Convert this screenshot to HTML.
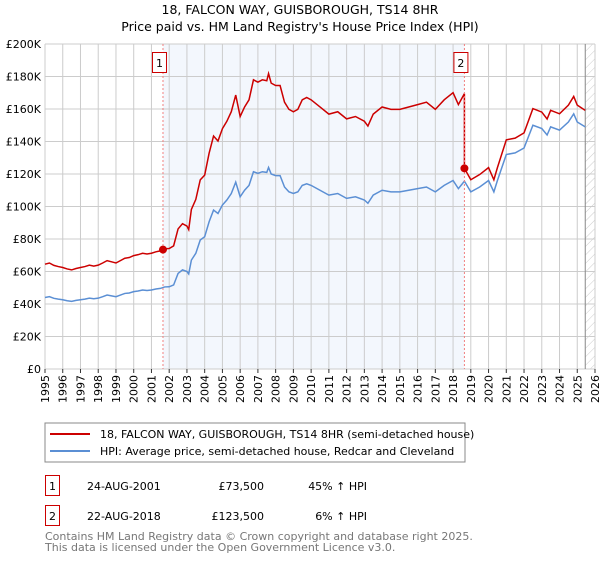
<!DOCTYPE html>
<html><head><meta charset="utf-8"><style>
body{margin:0;background:#fff;font-family:"DejaVu Sans","Liberation Sans",sans-serif;}
svg text{font-family:"DejaVu Sans","Liberation Sans",sans-serif;}
</style></head><body>
<svg id="c" width="600" height="560" xmlns="http://www.w3.org/2000/svg">
<defs><pattern id="hatch" width="6" height="6" patternUnits="userSpaceOnUse" patternTransform="rotate(45)"><line x1="0" y1="0" x2="0" y2="6" stroke="#ccc" stroke-width="1"/></pattern></defs>
<text x="300" y="14" text-anchor="middle" font-size="12.5">18, FALCON WAY, GUISBOROUGH, TS14 8HR</text>
<text x="300" y="31" text-anchor="middle" font-size="12.5">Price paid vs. HM Land Registry's House Price Index (HPI)</text>
<g id="plot"></g>
<rect x="45" y="423" width="420" height="39" fill="#fff" stroke="#888"/>
<line x1="50" y1="434" x2="90" y2="434" stroke="#cc0000" stroke-width="2"/>
<text x="100" y="438" font-size="11">18, FALCON WAY, GUISBOROUGH, TS14 8HR (semi-detached house)</text>
<line x1="50" y1="451" x2="90" y2="451" stroke="#5b8fd4" stroke-width="2"/>
<text x="100" y="455" font-size="11">HPI: Average price, semi-detached house, Redcar and Cleveland</text>
<g font-size="11">
<rect x="45.5" y="475.5" width="14" height="20" fill="#fff" stroke="#cc0000"/>
<text x="52.5" y="490" text-anchor="middle">1</text>
<text x="87" y="490">24-AUG-2001</text>
<text x="264" y="490" text-anchor="end">£73,500</text>
<text x="367" y="490" text-anchor="end">45% ↑ HPI</text>
<rect x="45.5" y="505.5" width="14" height="20" fill="#fff" stroke="#cc0000"/>
<text x="52.5" y="520" text-anchor="middle">2</text>
<text x="87" y="520">22-AUG-2018</text>
<text x="264" y="520" text-anchor="end">£123,500</text>
<text x="367" y="520" text-anchor="end">6% ↑ HPI</text>
</g>
<text x="45" y="540" font-size="11" fill="#777">Contains HM Land Registry data © Crown copyright and database right 2025.</text>
<text x="45" y="551" font-size="11" fill="#777">This data is licensed under the Open Government Licence v3.0.</text>
</svg>
<script>
const yTicks=[0,20000,40000,60000,80000,100000,120000,140000,160000,180000,200000];
const yTickLabels=["£0","£20K","£40K","£60K","£80K","£100K","£120K","£140K","£160K","£180K","£200K"];
const years=[1995,1996,1997,1998,1999,2000,2001,2002,2003,2004,2005,2006,2007,2008,2009,2010,2011,2012,2013,2014,2015,2016,2017,2018,2019,2020,2021,2022,2023,2024,2025,2026];
const hpiDates=[1995,1995.25,1995.5,1995.75,1996,1996.25,1996.5,1996.75,1997,1997.25,1997.5,1997.75,1998,1998.25,1998.5,1998.75,1999,1999.25,1999.5,1999.75,2000,2000.25,2000.5,2000.75,2001,2001.25,2001.5,2001.75,2002,2002.25,2002.5,2002.75,2003,2003.1,2003.25,2003.5,2003.75,2004,2004.25,2004.5,2004.75,2005,2005.25,2005.5,2005.75,2006,2006.25,2006.5,2006.75,2007,2007.25,2007.5,2007.6,2007.75,2008,2008.25,2008.5,2008.75,2009,2009.25,2009.5,2009.75,2010,2010.5,2011,2011.5,2012,2012.5,2013,2013.2,2013.5,2014,2014.5,2015,2015.5,2016,2016.5,2017,2017.5,2018,2018.3,2018.64,2019,2019.5,2020,2020.3,2020.5,2021,2021.5,2022,2022.5,2023,2023.3,2023.5,2024,2024.5,2024.8,2025,2025.45];
const hpiValues=[44000,44500,43500,43000,42600,42000,41600,42200,42600,43000,43600,43200,43600,44500,45500,45000,44500,45500,46500,46800,47600,48000,48600,48300,48600,49200,49600,50500,50600,51700,58800,61000,60000,58500,67000,71200,79400,81400,90600,97800,95700,100900,104000,108000,115000,106000,110000,113000,121400,120400,121400,121000,124000,120000,119000,119000,112000,109000,108000,109000,113000,114000,113000,110000,107000,108000,105000,106000,104000,102000,107000,110000,109000,109000,110000,111000,112000,109000,113000,116000,111000,115600,109000,112000,116000,109000,116000,132000,133000,136000,150000,148000,144000,149000,147000,152000,157000,152000,149000];
const saleDates=[2001.65,2018.64];
const salePrices=[73500,123500];
const X0=45,X1=595,Y0=369,Y1=44;
const xs=t=>X0+(t-1995)/(2026-1995)*(X1-X0);
const ys=v=>Y0-(v/200000)*(Y0-Y1);
const NS="http://www.w3.org/2000/svg";
const g=document.getElementById('plot');
function mk(tag,at){const e=document.createElementNS(NS,tag);for(const k in at)e.setAttribute(k,at[k]);g.appendChild(e);return e;}
function hpiAt(t){for(let i=1;i<hpiDates.length;i++){if(t<=hpiDates[i]){const f=(t-hpiDates[i-1])/(hpiDates[i]-hpiDates[i-1]);return hpiValues[i-1]+f*(hpiValues[i]-hpiValues[i-1]);}}return hpiValues[hpiValues.length-1];}
let sh=mk('rect',{x:xs(saleDates[0]),y:Y1,width:xs(saleDates[1])-xs(saleDates[0]),height:Y0-Y1,fill:'#eef3fc',opacity:'0.7'});


const lastT=hpiDates[hpiDates.length-1];
let ht=mk('rect',{x:xs(lastT),y:Y1,width:X1-xs(lastT),height:Y0-Y1,fill:'url(#hatch)'});


yTicks.forEach((v,i)=>{
 let l=mk('line',{x1:X0,x2:X1,y1:ys(v),y2:ys(v),stroke:'#ccc'});
 
 
 let t=mk('text',{x:X0-4,y:ys(v)+4,'text-anchor':'end','font-size':'11'});t.textContent=yTickLabels[i];
 
 
});
years.forEach(yr=>{
 let l=mk('line',{x1:xs(yr),x2:xs(yr),y1:Y1,y2:Y0,stroke:'#ccc'});
 
 
 let tk=mk('line',{x1:xs(yr),x2:xs(yr),y1:Y0,y2:Y0+4,stroke:'#333'});
 
 
 const tx=xs(yr)+4,ty=Y0+6;
 let t=mk('text',{x:tx,y:ty,'text-anchor':'end','font-size':'11',transform:'rotate(-90 '+tx+' '+ty+')'});t.textContent=yr;
 
 
});
let ln=mk('line',{x1:xs(lastT),x2:xs(lastT),y1:Y1,y2:Y0,stroke:'#888'});


let hp=mk('polyline',{points:hpiDates.map((t,i)=>xs(t)+','+ys(hpiValues[i])).join(' '),fill:'none',stroke:'#5b8fd4','stroke-width':'1.5'});


const r1=salePrices[0]/hpiAt(saleDates[0]),r2=salePrices[1]/hpiAt(saleDates[1]);
const pts=[];
hpiDates.forEach((t,i)=>{
 if(t<saleDates[1]){pts.push([t,hpiValues[i]*r1]);}
 if(i+1<hpiDates.length&&t<saleDates[1]&&hpiDates[i+1]>=saleDates[1]){pts.push([saleDates[1],hpiAt(saleDates[1])*r1]);pts.push([saleDates[1],salePrices[1]]);}
 if(t>saleDates[1]){pts.push([t,hpiValues[i]*r2]);}
});
let pl=mk('polyline',{points:pts.map(p=>xs(p[0])+','+ys(p[1])).join(' '),fill:'none',stroke:'#cc0000','stroke-width':'1.5'});


saleDates.forEach((d,i)=>{
 let v=mk('line',{x1:xs(d),x2:xs(d),y1:Y1,y2:Y0,stroke:'#f08080','stroke-dasharray':'2,2'});
 
 
 let c=mk('circle',{cx:xs(d),cy:ys(salePrices[i]),r:4,fill:'#cc0000'});
 
 
 let b=mk('rect',{x:xs(d)-10.5,y:52.5,width:14,height:20,fill:'#fff',stroke:'#cc0000'});
 
 
 let t=mk('text',{x:xs(d)-3.5,y:67,'text-anchor':'middle','font-size':'11'});t.textContent=String(i+1);
 
 
});
</script>
</body></html>
